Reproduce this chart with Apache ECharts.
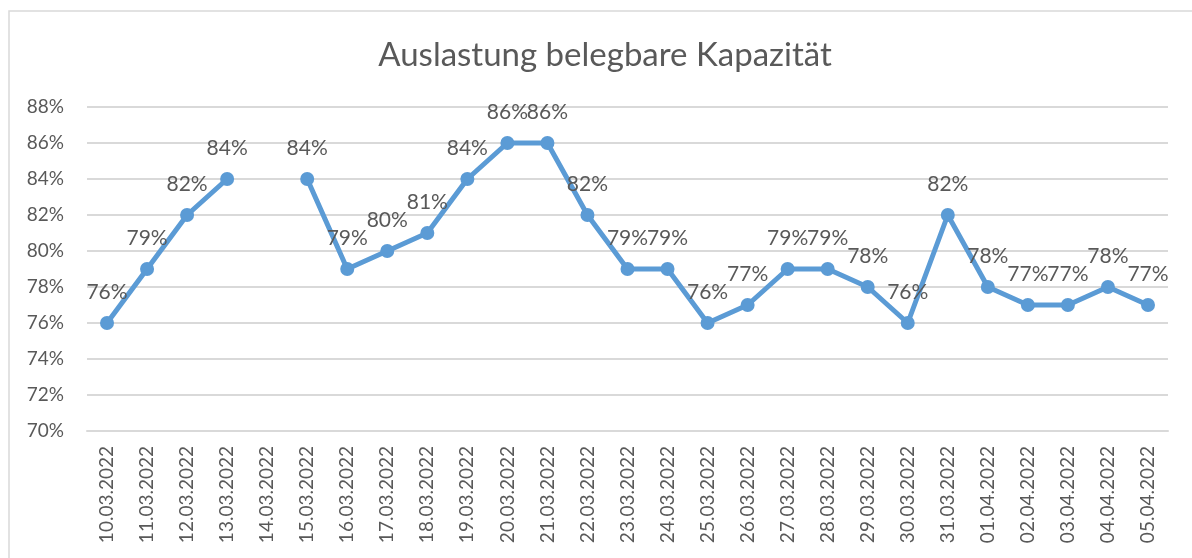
<!DOCTYPE html>
<html><head><meta charset="utf-8">
<script src="https://cdn.jsdelivr.net/npm/echarts@6/dist/echarts.min.js"></script>
<style>html,body{margin:0;padding:0;background:#fff}#c{width:1192px;height:558px}</style>
</head><body><div id="c"></div>
<script>
const titleText = 'Auslastung belegbare Kapazität';
const categories = ['10.03.2022','11.03.2022','12.03.2022','13.03.2022','14.03.2022','15.03.2022','16.03.2022','17.03.2022','18.03.2022','19.03.2022','20.03.2022','21.03.2022','22.03.2022','23.03.2022','24.03.2022','25.03.2022','26.03.2022','27.03.2022','28.03.2022','29.03.2022','30.03.2022','31.03.2022','01.04.2022','02.04.2022','03.04.2022','04.04.2022','05.04.2022'];
const values = [76,79,82,84,null,84,79,80,81,84,86,86,82,79,79,76,77,79,79,78,76,82,78,77,77,78,77];
const yMin = 70, yMax = 88, yStep = 2;

const FONT = 'Lato';
const chart = echarts.init(document.getElementById('c'));
chart.setOption({
  animation: false,
  textStyle: { fontFamily: FONT },
  title: {
    text: titleText, left: 600, top: 34, textAlign: 'center',
    textStyle: { fontFamily: FONT, fontSize: 33, fontWeight: 'normal', color: '#595959' }
  },
  graphic: [{
    type: 'rect', z: -1, silent: true,
    shape: { x: 9, y: 11, width: 1300, height: 700 },
    style: { fill: 'none', stroke: '#d9d9d9', lineWidth: 1.5 }
  }],
  grid: { left: 87, right: 24, top: 107, bottom: 127, containLabel: false },
  xAxis: {
    type: 'category', data: categories, boundaryGap: true,
    axisLine: { show: true, lineStyle: { color: '#d9d9d9', width: 2 } },
    axisTick: { show: false },
    axisLabel: { rotate: 90, interval: 0, margin: 15, color: '#595959', fontSize: 19, fontFamily: FONT }
  },
  yAxis: {
    type: 'value', min: yMin, max: yMax, interval: yStep,
    axisLine: { show: false }, axisTick: { show: false },
    axisLabel: { formatter: '{value}%', color: '#595959', fontSize: 19, margin: 23, fontFamily: FONT },
    splitLine: { lineStyle: { color: '#d9d9d9', width: 2 } }
  },
  series: [{
    type: 'line', data: values, connectNulls: false,
    symbol: 'circle', symbolSize: 14,
    lineStyle: { color: '#5b9bd5', width: 5 },
    itemStyle: { color: '#5b9bd5' },
    label: { show: true, position: 'top', distance: 13, formatter: '{c}%', color: '#595959', fontSize: 21, fontFamily: FONT }
  }]
});
</script></body></html>
